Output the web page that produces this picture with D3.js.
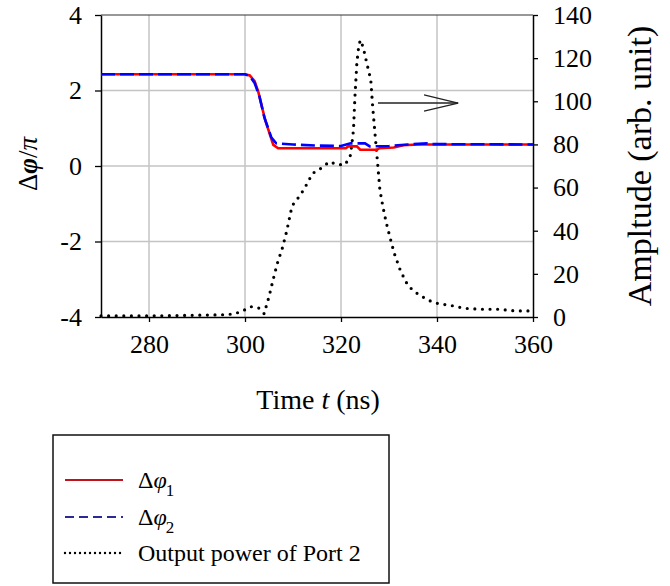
<!DOCTYPE html>
<html>
<head>
<meta charset="utf-8">
<script src="https://cdn.jsdelivr.net/npm/d3@7"></script>
<style>
  html, body { margin: 0; padding: 0; background: #fff; }
  svg { display: block; }
</style>
</head>
<body>
<div id="chart"></div>
<script>
// ---------- data ----------
const timeTicks = [280, 300, 320, 340, 360];
const phaseTicks = [-4, -2, 0, 2, 4];
const ampTicks = [0, 20, 40, 60, 80, 100, 120, 140];

// Δφ1 (red, solid)
const phi1Time = [270, 300, 301, 302, 302.8, 304.2, 305.9, 306.9, 321, 321.5, 323.3, 324, 327.5, 328, 331, 333, 336, 360];
const phi1Val  = [2.43, 2.43, 2.40, 2.25, 1.95, 1.22, 0.56, 0.47, 0.47, 0.52, 0.52, 0.43, 0.43, 0.47, 0.49, 0.55, 0.57, 0.57];

// Δφ2 (blue, dashed)
const phi2Time = [270, 300, 301, 302, 303, 304, 305.5, 306.5, 310, 315, 320, 322, 325, 326, 330, 334, 338, 339, 360];
const phi2Val  = [2.43, 2.43, 2.38, 2.2, 1.85, 1.3, 0.75, 0.6, 0.57, 0.54, 0.53, 0.6, 0.6, 0.52, 0.53, 0.57, 0.6, 0.58, 0.57];

// Output power of Port 2 (dotted, right axis)
const powTime = [270, 280, 290, 295, 297.7, 299.5, 301.2, 302.8, 304.0, 304.5, 305.0, 305.8, 306.7, 307.8, 308.7, 309.8, 311.1, 312.3, 313.2, 314.1, 315.8, 317.6, 319.2, 320.8, 321.9, 322.2, 322.6, 322.9, 323.3, 323.6, 324.0, 324.6, 325.3, 326.2, 326.6, 327.2, 327.6, 328.1, 328.7, 329.4, 330.2, 331.1, 332.3, 333.1, 334.0, 335.6, 337.1, 338.9, 340.6, 342.4, 344.1, 345.8, 349.3, 352.8, 356.3, 360];
const powVal  = [0.5, 0.5, 0.8, 1.0, 1.4, 2.8, 4.8, 4.3, 1.5, 5.6, 9.4, 16.8, 24.6, 32.1, 39.9, 51.5, 55.3, 59.2, 63, 66.6, 68.9, 72, 70.7, 70.5, 74.3, 79, 86.7, 102, 117.6, 123.8, 128.4, 125.3, 118.4, 110, 97.5, 82, 72, 59, 51.5, 44, 37, 29.5, 22, 18.2, 14.4, 11.3, 9.2, 7.1, 6, 5.6, 4.8, 4, 3.6, 3.6, 2.8, 2.8];

const legendLabels = ["Δφ1", "Δφ2", "Output power of Port 2"];

// ---------- layout ----------
const SERIF = '"Liberation Serif", "Times New Roman", Times, serif';
const W = 670, H = 586;
const svg = d3.select("#chart").append("svg").attr("width", W).attr("height", H)
  .attr("font-family", SERIF);
svg.append("rect").attr("width", W).attr("height", H).attr("fill", "#fff");

const x = d3.scaleLinear().domain([270, 360]).range([101, 533]);
const yL = d3.scaleLinear().domain([-4, 4]).range([317, 15]);
const yR = d3.scaleLinear().domain([0, 140]).range([317, 15]);

// gridlines
const grid = svg.append("g").attr("stroke", "#c4c4c4").attr("stroke-width", 1.5);
timeTicks.filter(t => t < 360).forEach(t => {
  grid.append("line").attr("x1", x(t)).attr("x2", x(t)).attr("y1", yL(4)).attr("y2", yL(-4));
});
phaseTicks.filter(v => v > -4 && v < 4).forEach(v => {
  grid.append("line").attr("x1", x(270)).attr("x2", x(360)).attr("y1", yL(v)).attr("y2", yL(v));
});
// top frame line
svg.append("line").attr("x1", x(270)).attr("x2", x(360)).attr("y1", yL(4)).attr("y2", yL(4))
  .attr("stroke", "#333").attr("stroke-width", 1.2);

// axes
const tickFont = 26;
const gx = svg.append("g").attr("transform", `translate(0,${yL(-4)})`)
  .call(d3.axisBottom(x).tickValues(timeTicks).tickSize(5).tickPadding(13).tickSizeOuter(0));
const gl = svg.append("g").attr("transform", `translate(${x(270)},0)`)
  .call(d3.axisLeft(yL).tickValues(phaseTicks).tickSize(6).tickPadding(13).tickSizeOuter(0));
const gr = svg.append("g").attr("transform", `translate(${x(360)},0)`)
  .call(d3.axisRight(yR).tickValues(ampTicks).tickSize(5).tickPadding(15).tickSizeOuter(0));
[gx, gl, gr].forEach(g => {
  g.attr("font-family", SERIF).attr("font-size", tickFont);
  g.selectAll("path.domain").attr("stroke", "#000").attr("stroke-width", 1.5);
  g.selectAll(".tick line").attr("stroke", "#000").attr("stroke-width", 1.3);
  g.selectAll(".tick text").attr("font-family", SERIF).attr("font-size", tickFont).attr("fill", "#000");
});
gl.selectAll(".tick text").text(d => d < 0 ? "-" + Math.abs(d) : d);

// axis titles
const titleFont = 28;
const tX = svg.append("text").attr("x", 318).attr("y", 409).attr("text-anchor", "middle")
  .attr("font-family", SERIF).attr("font-size", titleFont);
tX.append("tspan").text("Time ");
tX.append("tspan").attr("font-style", "italic").text("t");
tX.append("tspan").text(" (ns)");

const tL = svg.append("text").attr("transform", "translate(37,164) rotate(-90)").attr("text-anchor", "middle")
  .attr("font-family", SERIF).attr("font-size", 27);
tL.append("tspan").text("Δ");
tL.append("tspan").attr("font-style", "italic").attr("font-weight", "bold").text("φ");
tL.append("tspan").text("/");
tL.append("tspan").attr("font-style", "italic").text("π");

svg.append("text").attr("transform", "translate(651,166) rotate(-90)").attr("text-anchor", "middle")
  .attr("font-family", SERIF).attr("font-size", 34).attr("fill", "#000").text("Ampltude (arb. unit)");

// lines
const zip = (a, b) => a.map((t, i) => [t, b[i]]);
const lineL = d3.line().x(d => x(d[0])).y(d => yL(d[1]));
const lineR = d3.line().x(d => x(d[0])).y(d => yR(d[1]));

svg.append("path").attr("d", lineR(zip(powTime, powVal))).attr("fill", "none")
  .attr("stroke", "#000").attr("stroke-width", 3.2).attr("stroke-linecap", "round")
  .attr("stroke-dasharray", "0 7.6");

svg.append("path").attr("d", lineL(zip(phi1Time, phi1Val))).attr("fill", "none")
  .attr("stroke", "#ff0000").attr("stroke-width", 2.6);
svg.append("path").attr("d", lineL(zip(phi2Time, phi2Val))).attr("fill", "none")
  .attr("stroke", "#0000ff").attr("stroke-width", 2.6).attr("stroke-dasharray", "14 5");

// arrow pointing to right axis
const ar = svg.append("g").attr("stroke", "#222").attr("stroke-width", 1.3).attr("fill", "none");
ar.append("line").attr("x1", x(327.7)).attr("x2", x(344.4)).attr("y1", yR(99.2)).attr("y2", yR(99.2));
ar.append("polyline").attr("points", [[x(337.3), yR(103)], [x(344.4), yR(99.2)], [x(337.3), yR(95.4)]].map(p => p.join(",")).join(" "));

// legend
const lg = svg.append("g");
lg.append("rect").attr("x", 53).attr("y", 435).attr("width", 336).attr("height", 148)
  .attr("fill", "#fff").attr("stroke", "#111").attr("stroke-width", 1.5);
const legStyles = [
  { stroke: "#c0141c", dash: null, w: 2.2, cap: "butt" },
  { stroke: "#2a2a96", dash: "9 5", w: 2.2, cap: "butt" },
  { stroke: "#000", dash: "0 5", w: 2.4, cap: "round" }
];
const legY = [480, 517, 553];
legendLabels.forEach((lab, i) => {
  const s = legStyles[i];
  const ln = lg.append("line").attr("x1", 65).attr("x2", 123).attr("y1", legY[i]).attr("y2", legY[i])
    .attr("stroke", s.stroke).attr("stroke-width", s.w).attr("stroke-linecap", s.cap);
  if (s.dash) ln.attr("stroke-dasharray", s.dash);
  const t = lg.append("text").attr("x", 138).attr("y", legY[i] + 8)
    .attr("font-family", SERIF).attr("font-size", 24);
  if (i < 2) {
    t.append("tspan").text("Δ");
    t.append("tspan").attr("font-style", "italic").text("φ");
    t.append("tspan").attr("font-size", 17).attr("dy", 8).attr("dx", -1).text(lab.slice(2));
  } else {
    t.text(lab);
  }
});
</script>
</body>
</html>
